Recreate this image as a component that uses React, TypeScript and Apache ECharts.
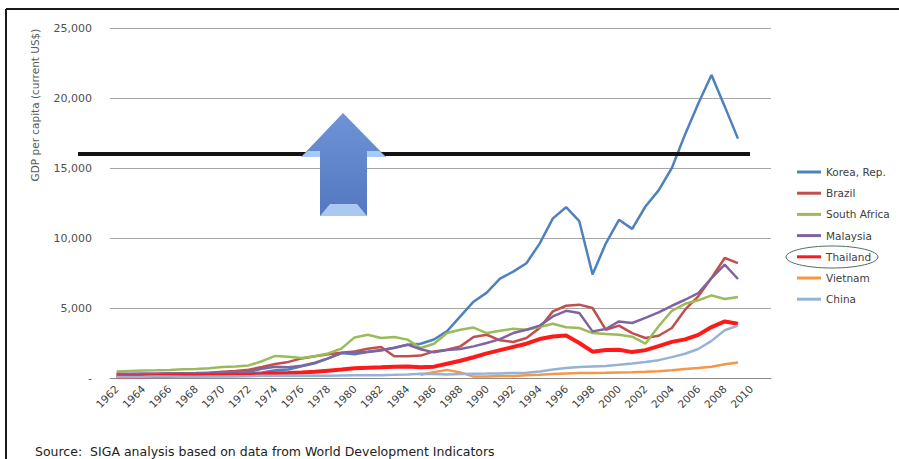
import React, { useEffect, useRef } from "react";
import * as echarts from "echarts";

const years: string[] = [];
for (let y = 1962; y <= 2011; y++) years.push(String(y));

const korea = [110, 140, 125, 110, 135, 160, 200, 245, 280, 300, 320, 400, 560, 610, 830, 1050, 1400, 1780, 1700, 1860, 1960, 2170, 2380, 2450, 2750, 3350, 4400, 5450, 6100, 7100, 7600, 8200, 9600, 11400, 12200, 11200, 7400, 9600, 11300, 10650, 12250, 13400, 15000, 17400, 19600, 21650, 19400, 17100];
const brazil = [260, 270, 260, 260, 300, 330, 350, 380, 440, 500, 590, 790, 1000, 1150, 1400, 1550, 1700, 1800, 1900, 2090, 2210, 1550, 1550, 1600, 1900, 2020, 2260, 2930, 3090, 2690, 2570, 2860, 3570, 4760, 5160, 5240, 5000, 3450, 3740, 3210, 2860, 3020, 3570, 4880, 5830, 7140, 8570, 8210];
const southAfrica = [470, 500, 530, 550, 580, 620, 650, 700, 780, 830, 900, 1200, 1580, 1520, 1430, 1550, 1750, 2100, 2900, 3090, 2860, 2930, 2740, 2140, 2450, 3210, 3450, 3600, 3210, 3380, 3520, 3450, 3640, 3880, 3620, 3570, 3210, 3150, 3090, 2950, 2450, 3700, 4800, 5300, 5550, 5900, 5640, 5790];
const malaysia = [300, 310, 320, 330, 340, 340, 340, 360, 370, 390, 450, 660, 800, 770, 880, 1100, 1400, 1780, 1850, 1880, 2000, 2140, 2380, 2050, 1830, 2000, 2070, 2260, 2500, 2780, 3210, 3450, 3740, 4400, 4800, 4640, 3330, 3500, 4040, 3930, 4290, 4690, 5160, 5590, 6070, 7140, 8100, 7070];
const thailand = [110, 115, 125, 140, 160, 170, 180, 190, 190, 195, 210, 270, 340, 350, 390, 440, 520, 600, 700, 740, 760, 800, 820, 760, 810, 1020, 1230, 1480, 1760, 1990, 2220, 2450, 2780, 2960, 3030, 2500, 1880, 2000, 2020, 1850, 1990, 2280, 2580, 2760, 3080, 3640, 4040, 3880];
const vietnam = [null, null, null, null, null, null, null, null, null, null, null, null, null, null, null, null, null, null, null, null, null, null, null, 230, 420, 580, 400, 100, 100, 140, 145, 190, 225, 280, 330, 355, 360, 370, 400, 410, 440, 490, 560, 640, 720, 800, 980, 1110];
const china = [70, 75, 85, 100, 105, 95, 90, 100, 110, 120, 130, 155, 160, 180, 165, 185, 155, 185, 195, 200, 205, 225, 250, 295, 280, 250, 285, 310, 315, 330, 365, 380, 470, 610, 710, 780, 830, 865, 950, 1040, 1135, 1275, 1490, 1730, 2070, 2650, 3410, 3740];

const seriesNames = ["Korea, Rep.", "Brazil", "South Africa", "Malaysia", "Thailand", "Vietnam", "China"];
const seriesData = [korea, brazil, southAfrica, malaysia, thailand, vietnam, china];
const seriesColors = ["#4F81BD", "#C0504D", "#9BBB59", "#8064A2", "#FF1A1A", "#F79646", "#95B3D7"];
const seriesWidths = [2.5, 2.5, 2.5, 2.5, 4, 2.5, 2.5];

const thresholdValue = 16000;
const FONT = "DejaVu Sans";

export default function App() {
  const ref = useRef<HTMLDivElement>(null);
  useEffect(() => {
    if (!ref.current) return;
    const chart = echarts.init(ref.current, null, { renderer: "svg" });
    chart.setOption({
      animation: false,
      backgroundColor: "#ffffff",
      grid: { left: 110, top: 28, width: 661, height: 350 },
      legend: {
        orient: "vertical",
        left: 797,
        top: 165,
        padding: 0,
        itemWidth: 24,
        itemHeight: 3,
        itemGap: 7.2,
        icon: "rect",
        data: seriesNames,
        textStyle: { fontSize: 10.5, color: "#404040", fontFamily: FONT, lineHeight: 14 },
      },
      xAxis: {
        type: "category",
        data: years,
        boundaryGap: true,
        axisLine: { lineStyle: { color: "#8a8a8a", width: 1 } },
        axisTick: { interval: 0, length: 5, lineStyle: { color: "#8a8a8a" } },
        axisLabel: {
          interval: 1,
          rotate: 45,
          margin: 9,
          fontSize: 10.5,
          color: "#404040",
          fontFamily: FONT,
        },
      },
      yAxis: {
        type: "value",
        min: 0,
        max: 25000,
        interval: 5000,
        axisLine: { show: false },
        axisTick: { show: false },
        splitLine: { lineStyle: { color: "#a6a6a6", width: 1 } },
        axisLabel: {
          margin: 18,
          fontSize: 11,
          color: "#505050",
          fontFamily: FONT,
          formatter: (v: number) => (v === 0 ? "-" : v.toLocaleString("en-US")),
        },
      },
      series: seriesNames.map((name, i) => ({
        name,
        type: "line",
        data: seriesData[i],
        showSymbol: false,
        symbol: "none",
        connectNulls: false,
        color: seriesColors[i],
        lineStyle: { width: seriesWidths[i], color: seriesColors[i] },
        z: 2 + i,
      })),
    });

    const yLine = chart.convertToPixel({ yAxisIndex: 0 }, thresholdValue) as number;
    chart.setOption({
      graphic: [
        { type: "line", shape: { x1: 6, y1: 9, x2: 899, y2: 9 }, style: { stroke: "#1a1a1a", lineWidth: 2 }, z: 100 },
        { type: "line", shape: { x1: 6, y1: 9, x2: 6, y2: 459 }, style: { stroke: "#1a1a1a", lineWidth: 2 }, z: 100 },
        {
          type: "text",
          x: 35,
          y: 105,
          rotation: Math.PI / 2,
          style: {
            text: "GDP per capita (current US$)",
            fontSize: 10.5,
            fontFamily: FONT,
            fill: "#595959",
            textAlign: "center",
            textVerticalAlign: "middle",
          },
          z: 100,
        },
        {
          type: "rect",
          shape: { x: 78, y: yLine - 2, width: 672, height: 4 },
          style: { fill: "#141414" },
          z: 100,
        },
        {
          type: "polygon",
          shape: {
            points: [[343, 113], [386, 157], [367, 157], [367, 216], [320, 216], [320, 157], [301, 157]],
          },
          style: {
            fill: new echarts.graphic.LinearGradient(0, 0, 0, 1, [
              { offset: 0, color: "#6f93d6" },
              { offset: 1, color: "#5478c0" },
            ]),
          },
          z: 101,
        },
        {
          type: "polygon",
          shape: { points: [[320, 216], [367, 216], [357, 204], [330, 204]] },
          style: { fill: "#a9c9f0" },
          z: 102,
        },
        {
          type: "polygon",
          shape: { points: [[301, 157], [320, 157], [320, 151], [308, 151]] },
          style: { fill: "#a9c9f0" },
          z: 102,
        },
        {
          type: "polygon",
          shape: { points: [[386, 157], [367, 157], [367, 151], [379, 151]] },
          style: { fill: "#a9c9f0" },
          z: 102,
        },
        {
          type: "ellipse",
          shape: { cx: 832, cy: 257, rx: 46, ry: 11 },
          style: { fill: "none", stroke: "#4f6f55", lineWidth: 1 },
          z: 100,
        },
        {
          type: "text",
          x: 35,
          y: 451,
          style: {
            text: "Source:  SIGA analysis based on data from World Development Indicators",
            fontSize: 12.5,
            fontFamily: FONT,
            fill: "#222222",
            textVerticalAlign: "middle",
          },
          z: 100,
        },
      ],
    });
    return () => chart.dispose();
  }, []);
  return (
    <div
      ref={ref}
      style={{ position: "fixed", left: 0, top: 0, width: 899, height: 459 }}
    />
  );
}
